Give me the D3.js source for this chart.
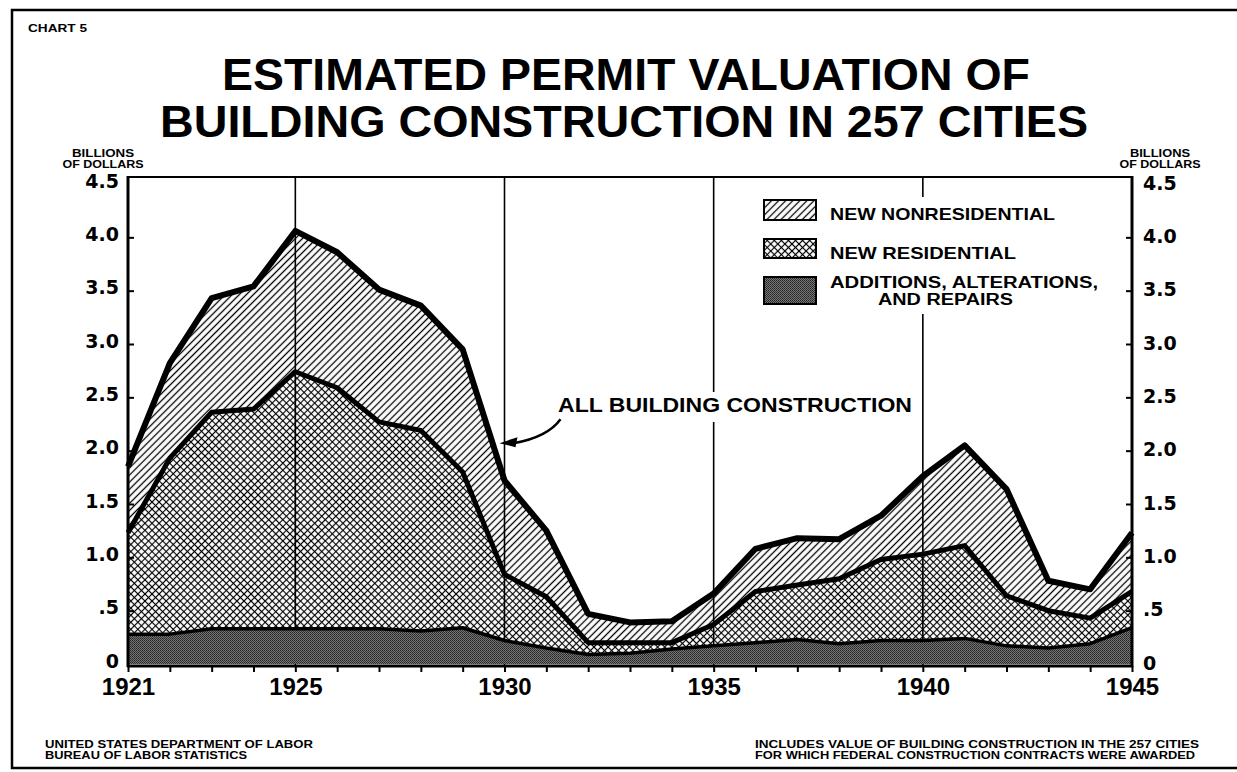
<!DOCTYPE html>
<html><head><meta charset="utf-8">
<script src="https://cdn.jsdelivr.net/npm/d3@7"></script>
<style>body{margin:0;background:#fff}svg{display:block}</style>
</head><body>
<svg id="c" width="1237" height="772"></svg>
<script>
// ---------- data ----------
const years = [1921,1922,1923,1924,1925,1926,1927,1928,1929,1930,1931,1932,1933,1934,1935,1936,1937,1938,1939,1940,1941,1942,1943,1944,1945];
const additions      = [0.28,0.28,0.33,0.33,0.33,0.33,0.33,0.31,0.34,0.22,0.15,0.09,0.10,0.14,0.17,0.20,0.23,0.19,0.22,0.22,0.24,0.17,0.15,0.19,0.34];
const residential    = [0.95,1.65,2.03,2.06,2.41,2.26,1.94,1.88,1.46,0.62,0.48,0.11,0.10,0.06,0.20,0.48,0.51,0.61,0.76,0.81,0.87,0.47,0.35,0.24,0.34];
const nonresidential = [0.62,0.89,1.07,1.15,1.32,1.27,1.24,1.17,1.15,0.88,0.62,0.27,0.19,0.20,0.29,0.40,0.44,0.37,0.41,0.73,0.94,1.00,0.28,0.27,0.55];
const yTicks = [0,0.5,1,1.5,2,2.5,3,3.5,4,4.5];
const yTickLabels = ["0",".5","1.0","1.5","2.0","2.5","3.0","3.5","4.0","4.5"];
const xLabelYears = [1921,1925,1930,1935,1940,1945];
const gridYears = [1925,1930,1935,1940];
const seriesKeys = ["additions","residential","nonresidential"];
const legendLabels = [["NEW NONRESIDENTIAL"],["NEW RESIDENTIAL"],["ADDITIONS, ALTERATIONS,","AND REPAIRS"]];

const svg = d3.select("#c");
const x = d3.scaleLinear().domain([1921,1945]).range([128,1132]);
const y = d3.scaleLinear().domain([0,4.5]).range([664,184]);
const plotTop = 177, plotBottom = 666;

// ---------- patterns ----------
const defs = svg.append("defs");
const hatch = defs.append("pattern").attr("id","hatch").attr("patternUnits","userSpaceOnUse")
  .attr("width",5).attr("height",5).attr("patternTransform","rotate(45)");
hatch.append("rect").attr("width",5).attr("height",5).attr("fill","#fff");
hatch.append("line").attr("x1",2.5).attr("y1",0).attr("x2",2.5).attr("y2",5).attr("stroke","#000").attr("stroke-width",1.3);

const cross = defs.append("pattern").attr("id","cross").attr("patternUnits","userSpaceOnUse")
  .attr("width",5).attr("height",5).attr("patternTransform","rotate(45)");
cross.append("rect").attr("width",5).attr("height",5).attr("fill","#fff");
cross.append("line").attr("x1",2.5).attr("y1",0).attr("x2",2.5).attr("y2",5).attr("stroke","#000").attr("stroke-width",1.15);
cross.append("line").attr("x1",0).attr("y1",2.5).attr("x2",5).attr("y2",2.5).attr("stroke","#000").attr("stroke-width",1.15);

const dots = defs.append("pattern").attr("id","dots").attr("patternUnits","userSpaceOnUse")
  .attr("width",2).attr("height",2);
dots.append("rect").attr("width",2).attr("height",2).attr("fill","#747474");
dots.append("rect").attr("width",1).attr("height",1).attr("fill","#262626");
dots.append("rect").attr("x",1).attr("y",1).attr("width",1).attr("height",1).attr("fill","#363636");

const fills = {additions:"url(#dots)", residential:"url(#cross)", nonresidential:"url(#hatch)"};
const lineW = {additions:3.5, residential:5, nonresidential:6};

// ---------- outer border ----------
svg.append("rect").attr("x",12).attr("y",10).attr("width",1260).attr("height",758)
  .attr("fill","none").attr("stroke","#000").attr("stroke-width",2.5);

// ---------- text helper ----------
const txt = (t, xx, yy, size, opts={}) => {
  const e = svg.append("text").attr("x",xx).attr("y",yy).text(t)
    .attr("font-family", opts.family || "'Liberation Sans', Arial, sans-serif")
    .attr("font-weight", opts.weight || "bold").attr("font-size",size).attr("fill","#000")
    .attr("text-anchor", opts.anchor || "start");
  if (opts.len) e.attr("textLength",opts.len).attr("lengthAdjust","spacingAndGlyphs");
  return e;
};
txt("CHART 5", 28, 32, 11, {len:59});
txt("ESTIMATED PERMIT VALUATION OF", 626, 90, 44, {anchor:"middle", len:808});
txt("BUILDING CONSTRUCTION IN 257 CITIES", 624, 137, 44, {anchor:"middle", len:928});
txt("BILLIONS", 103, 157, 10.5, {anchor:"middle", len:62});
txt("OF DOLLARS", 103, 168, 10.5, {anchor:"middle", len:81});
txt("BILLIONS", 1160, 157, 10.5, {anchor:"middle", len:60});
txt("OF DOLLARS", 1160, 168, 10.5, {anchor:"middle", len:81});

// ---------- stacked areas ----------
const rows = years.map((yr,i)=>({year:yr, additions:additions[i], residential:residential[i], nonresidential:nonresidential[i]}));
const stack = d3.stack().keys(seriesKeys)(rows);
const area = d3.area().x(d=>x(d.data.year)).y0(d=>y(d[0])).y1(d=>y(d[1]));
const line = d3.line().x(d=>x(d.data.year)).y(d=>y(d[1]));

stack.filter(s=>s.key!=="additions").forEach(s=>{
  svg.append("path").attr("d",area(s)).attr("fill",fills[s.key]);
});
gridYears.forEach(yr=>{
  svg.append("line").attr("x1",x(yr)).attr("x2",x(yr)).attr("y1",plotTop).attr("y2",plotBottom)
    .attr("stroke","#000").attr("stroke-width",1.6);
});
stack.filter(s=>s.key==="additions").forEach(s=>{
  svg.append("path").attr("d",area(s)).attr("fill",fills[s.key]);
});
stack.forEach(s=>{
  svg.append("path").attr("d",line(s)).attr("fill","none").attr("stroke","#000")
    .attr("stroke-width",lineW[s.key]).attr("stroke-linejoin","round").attr("stroke-linecap","butt");
});

// ---------- frame ----------
svg.append("line").attr("x1",128).attr("x2",1132).attr("y1",plotTop).attr("y2",plotTop).attr("stroke","#000").attr("stroke-width",2);
svg.append("line").attr("x1",128).attr("x2",128).attr("y1",plotTop-1).attr("y2",plotBottom+1).attr("stroke","#000").attr("stroke-width",3);
svg.append("line").attr("x1",1132).attr("x2",1132).attr("y1",plotTop-1).attr("y2",plotBottom+1).attr("stroke","#000").attr("stroke-width",3);
svg.append("line").attr("x1",127).attr("x2",1133).attr("y1",plotBottom).attr("y2",plotBottom).attr("stroke","#000").attr("stroke-width",3);

// ---------- axes ----------
const styleAxis = (g, size, family) => {
  g.select(".domain").remove();
  g.selectAll(".tick line").attr("stroke","#000").attr("stroke-width",2);
  g.selectAll(".tick text").attr("font-family",family).attr("font-weight","bold")
    .attr("font-size",size).attr("fill","#000");
};
const fmtY = d => yTickLabels[yTicks.indexOf(d)];
const gl = svg.append("g").attr("transform","translate(128,0)")
  .call(d3.axisLeft(y).tickValues(yTicks).tickFormat(fmtY).tickSize(-6).tickPadding(9));
styleAxis(gl, 19, "'DejaVu Sans', sans-serif");
gl.selectAll(".tick text").attr("transform","translate(0,-3)");
gl.selectAll(".tick").filter(d=>d===0||d===4.5).select("line").remove();

const gr = svg.append("g").attr("transform","translate(1132,0)")
  .call(d3.axisRight(y).tickValues(yTicks).tickFormat(fmtY).tickSize(-6).tickPadding(11));
styleAxis(gr, 19, "'DejaVu Sans', sans-serif");
gr.selectAll(".tick text").attr("transform","translate(0,-1)");
gr.selectAll(".tick").filter(d=>d===0||d===4.5).select("line").remove();

const gb = svg.append("g").attr("transform",`translate(0,${plotBottom})`)
  .call(d3.axisBottom(x).tickValues(years).tickSize(6).tickPadding(6)
    .tickFormat(d=> xLabelYears.includes(d) ? String(d) : ""));
styleAxis(gb, 24, "'Liberation Sans', Arial, sans-serif");

// ---------- legend ----------
const lg = svg.append("g");
lg.append("rect").attr("x",755).attr("y",197).attr("width",352).attr("height",117).attr("fill","#fff");
const boxes = [{y:200,h:20,key:"nonresidential"},{y:239,h:19,key:"residential"},{y:277,h:27,key:"additions"}];
boxes.forEach(b=>{
  lg.append("rect").attr("x",764).attr("y",b.y).attr("width",52).attr("height",b.h)
    .attr("fill",fills[b.key]).attr("stroke","#000").attr("stroke-width",2);
});
txt(legendLabels[0][0], 830, 220, 17, {len:225});
txt(legendLabels[1][0], 830, 259, 17, {len:186});
txt(legendLabels[2][0], 830, 288, 16, {len:268});
txt(legendLabels[2][1], 878, 305, 16, {len:135});

// ---------- annotation ----------
const annX = 558, annY = 412;
svg.append("rect").attr("x",annX-4).attr("y",annY-20).attr("width",362).attr("height",30).attr("fill","#fff");
txt("ALL BUILDING CONSTRUCTION", annX, annY, 21, {len:354});
const tipX = x(1930) - 5, tipY = y(2.07);
const ap = d3.path();
ap.moveTo(tipX + 61, tipY - 24);
ap.quadraticCurveTo(tipX + 48, tipY - 6, tipX + 14, tipY);
svg.append("path").attr("d",ap.toString()).attr("fill","none").attr("stroke","#000").attr("stroke-width",2.5);
svg.append("path").attr("d",`M${tipX},${tipY} L${tipX+18},${tipY-6} L${tipX+16},${tipY+4} Z`).attr("fill","#000");

// ---------- footer ----------
txt("UNITED STATES DEPARTMENT OF LABOR", 45, 748, 11, {len:268});
txt("BUREAU OF LABOR STATISTICS", 45, 759, 11, {len:202});
txt("INCLUDES VALUE OF BUILDING CONSTRUCTION IN THE 257 CITIES", 755, 748, 11, {len:444});
txt("FOR WHICH FEDERAL CONSTRUCTION CONTRACTS WERE AWARDED", 755, 759, 11, {len:440});
</script>
</body></html>
